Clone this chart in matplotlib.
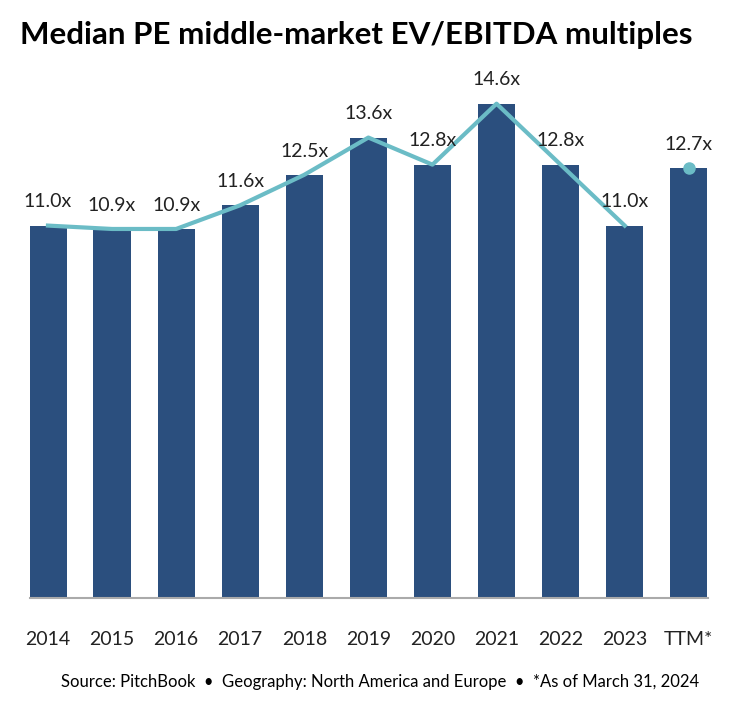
import matplotlib.pyplot as plt

years = ["2014", "2015", "2016", "2017", "2018", "2019", "2020", "2021", "2022", "2023", "TTM*"]
multiples = [11.0, 10.9, 10.9, 11.6, 12.5, 13.6, 12.8, 14.6, 12.8, 11.0, 12.7]

bar_color = "#2b4f7e"
line_color = "#6bbcc6"

plt.rcParams["font.family"] = ["Lato", "DejaVu Sans"]
fig = plt.figure(figsize=(7.42, 7.06), dpi=100)
ax = fig.add_axes([30 / 742, 1 - 598 / 706, 678 / 742, 518 / 706])

x = list(range(len(years)))
ax.bar(x, multiples, width=0.58, color=bar_color, zorder=2)
ax.plot(x[:-1], multiples[:-1], color=line_color, lw=3, zorder=3)
ax.plot(x[-1], multiples[-1], "o", color=line_color, ms=8, zorder=3)

for xi, v in zip(x, multiples):
    ax.text(xi, v + 0.45, f"{v:.1f}x", ha="center", va="bottom", fontsize=14, color="#222222")

ax.set_xlim(-0.28, 10.3)
ax.set_ylim(0, 15.3)
ax.set_yticks([])
ax.set_xticks(x)
ax.set_xticklabels(years, fontsize=14, color="#222222")
ax.tick_params(axis="x", length=0, pad=24)
for s in ["top", "right", "left"]:
    ax.spines[s].set_visible(False)
ax.spines["bottom"].set_color("#aaaaaa")
ax.spines["bottom"].set_linewidth(1.5)

fig.text(20 / 742, 1 - 35 / 706, "Median PE middle-market EV/EBITDA multiples",
         fontsize=22.5, fontweight="bold", va="center", ha="left")
fig.text(0.512, 1 - 682 / 706,
         "Source: PitchBook  \u2022  Geography: North America and Europe  \u2022  *As of March 31, 2024",
         fontsize=12, ha="center", va="center")

fig.savefig("out.png", dpi=100)
